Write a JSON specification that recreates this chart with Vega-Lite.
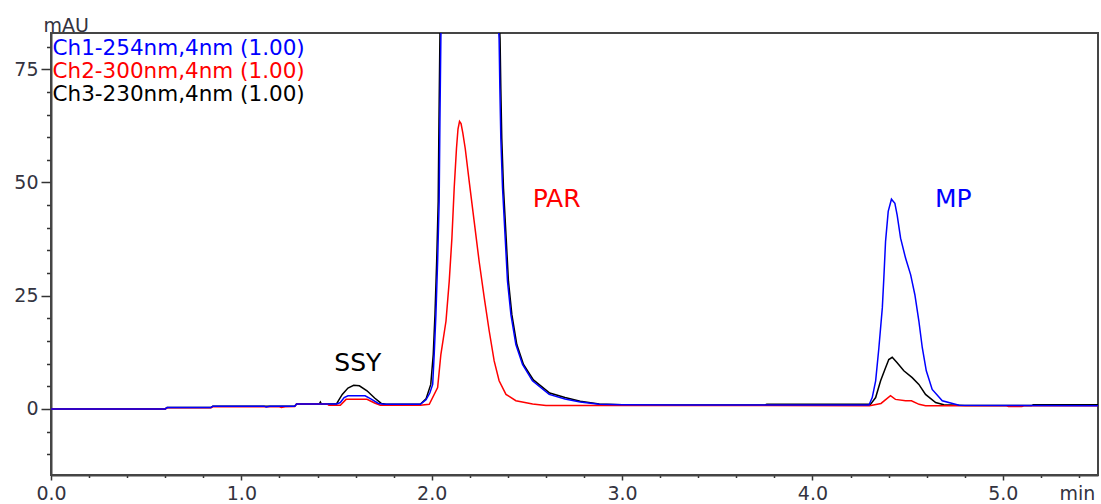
{
  "$schema": "https://vega.github.io/schema/vega-lite/v6.json",
  "width": 1047,
  "height": 442,
  "autosize": {"type": "none"},
  "padding": {"left": 51, "top": 33, "right": 3, "bottom": 29},
  "background": "white",
  "config": {"view": {"stroke": "#454545", "strokeWidth": 2}, "font": "DejaVu Sans"},
  "datasets": {
    "ch1": [
      {"t":0,"v":0},{"t":0.6,"v":0},{"t":0.61,"v":0.3},{"t":0.84,"v":0.3},{"t":0.85,"v":0.6},{"t":1.12,"v":0.6},{"t":1.13,"v":0.4},{"t":1.15,"v":0.6},{"t":1.28,"v":0.6},{"t":1.29,"v":1.1},{"t":1.5,"v":1.1},{"t":1.52,"v":1.4},{"t":1.54,"v":2.5},{"t":1.56,"v":2.9},{"t":1.65,"v":2.9},{"t":1.68,"v":2.2},{"t":1.72,"v":1.2},{"t":1.75,"v":1.0},{"t":1.94,"v":1.0},{"t":1.97,"v":2.0},{"t":1.99,"v":3.5},{"t":2.005,"v":5.4},{"t":2.013,"v":12.0},{"t":2.022,"v":20.8},{"t":2.031,"v":32.6},{"t":2.039,"v":45.8},{"t":2.043,"v":63.4},{"t":2.048,"v":82},{"t":2.06,"v":105},{"t":2.1,"v":125},{"t":2.2,"v":130},{"t":2.3,"v":115},{"t":2.345,"v":90},{"t":2.354,"v":81.7},{"t":2.358,"v":70.7},{"t":2.363,"v":59.7},{"t":2.372,"v":48.7},{"t":2.386,"v":37.7},{"t":2.398,"v":28.2},{"t":2.416,"v":20.8},{"t":2.442,"v":14.2},{"t":2.477,"v":9.8},{"t":2.529,"v":6.2},{"t":2.617,"v":3.2},{"t":2.7,"v":2.2},{"t":2.78,"v":1.5},{"t":2.88,"v":1.0},{"t":3.0,"v":0.9},{"t":3.3,"v":0.85},{"t":4.297,"v":0.85},{"t":4.314,"v":2.5},{"t":4.332,"v":6.2},{"t":4.349,"v":13.5},{"t":4.367,"v":22.3},{"t":4.375,"v":28.9},{"t":4.384,"v":37.0},{"t":4.398,"v":43.6},{"t":4.415,"v":46.3},{"t":4.433,"v":45.4},{"t":4.445,"v":42.8},{"t":4.463,"v":37.7},{"t":4.489,"v":33.3},{"t":4.516,"v":29.6},{"t":4.538,"v":25.2},{"t":4.559,"v":19.4},{"t":4.577,"v":13.5},{"t":4.598,"v":8.4},{"t":4.629,"v":4.3},{"t":4.682,"v":1.8},{"t":4.77,"v":0.8},{"t":5.5,"v":0.7}
    ],
    "ch2": [
      {"t":0,"v":0},{"t":0.6,"v":0},{"t":0.61,"v":0.25},{"t":0.84,"v":0.25},{"t":0.85,"v":0.45},{"t":1.2,"v":0.45},{"t":1.21,"v":0.3},{"t":1.23,"v":0.45},{"t":1.28,"v":0.5},{"t":1.29,"v":1.1},{"t":1.45,"v":1.1},{"t":1.46,"v":0.8},{"t":1.52,"v":0.8},{"t":1.55,"v":2.1},{"t":1.66,"v":2.1},{"t":1.70,"v":1.3},{"t":1.73,"v":0.8},{"t":1.94,"v":0.8},{"t":1.987,"v":1.0},{"t":2.031,"v":4.7},{"t":2.048,"v":12.0},{"t":2.075,"v":19.4},{"t":2.092,"v":28.2},{"t":2.106,"v":37.7},{"t":2.118,"v":48.7},{"t":2.13,"v":57.5},{"t":2.138,"v":61.8},{"t":2.146,"v":63.5},{"t":2.154,"v":63.0},{"t":2.163,"v":61.0},{"t":2.176,"v":57.5},{"t":2.197,"v":50.2},{"t":2.223,"v":41.4},{"t":2.249,"v":32.6},{"t":2.276,"v":24.5},{"t":2.302,"v":17.2},{"t":2.328,"v":10.6},{"t":2.354,"v":6.2},{"t":2.39,"v":3.2},{"t":2.442,"v":1.8},{"t":2.53,"v":1.1},{"t":2.6,"v":0.75},{"t":3.75,"v":0.75},{"t":4.3,"v":0.7},{"t":4.36,"v":1.2},{"t":4.41,"v":2.9},{"t":4.436,"v":2.1},{"t":4.489,"v":1.8},{"t":4.52,"v":1.8},{"t":4.56,"v":1.0},{"t":4.594,"v":0.7},{"t":5.02,"v":0.7},{"t":5.03,"v":0.5},{"t":5.1,"v":0.5},{"t":5.11,"v":0.7},{"t":5.5,"v":0.7}
    ],
    "ch3": [
      {"t":0,"v":0},{"t":0.6,"v":0},{"t":0.61,"v":0.3},{"t":0.84,"v":0.3},{"t":0.85,"v":0.6},{"t":1.28,"v":0.6},{"t":1.29,"v":1.1},{"t":1.41,"v":1.1},{"t":1.415,"v":1.5},{"t":1.42,"v":1.1},{"t":1.5,"v":1.1},{"t":1.51,"v":1.8},{"t":1.53,"v":3.2},{"t":1.56,"v":4.6},{"t":1.59,"v":5.2},{"t":1.62,"v":5.1},{"t":1.66,"v":4.0},{"t":1.70,"v":2.4},{"t":1.735,"v":1.2},{"t":1.76,"v":1.0},{"t":1.94,"v":1.0},{"t":1.97,"v":2.2},{"t":1.995,"v":5.4},{"t":2.008,"v":12.0},{"t":2.017,"v":20.8},{"t":2.026,"v":32.6},{"t":2.034,"v":45.8},{"t":2.038,"v":63.4},{"t":2.043,"v":82},{"t":2.055,"v":110},{"t":2.1,"v":135},{"t":2.2,"v":140},{"t":2.3,"v":125},{"t":2.35,"v":90},{"t":2.359,"v":81.7},{"t":2.363,"v":70.7},{"t":2.368,"v":59.7},{"t":2.377,"v":48.7},{"t":2.391,"v":37.7},{"t":2.403,"v":28.2},{"t":2.421,"v":20.8},{"t":2.447,"v":14.2},{"t":2.482,"v":9.8},{"t":2.534,"v":6.4},{"t":2.62,"v":3.5},{"t":2.7,"v":2.5},{"t":2.78,"v":1.7},{"t":2.88,"v":1.1},{"t":3.0,"v":0.9},{"t":3.75,"v":0.85},{"t":3.76,"v":1.0},{"t":4.305,"v":1.0},{"t":4.332,"v":2.5},{"t":4.358,"v":6.2},{"t":4.384,"v":9.1},{"t":4.401,"v":10.9},{"t":4.419,"v":11.4},{"t":4.445,"v":10.2},{"t":4.48,"v":8.4},{"t":4.524,"v":6.9},{"t":4.559,"v":5.4},{"t":4.594,"v":3.2},{"t":4.647,"v":1.4},{"t":4.69,"v":0.9},{"t":4.8,"v":0.75},{"t":5.15,"v":0.72},{"t":5.16,"v":0.9},{"t":5.5,"v":0.9}
    ],
    "labels": [
      {"label":"SSY","t":1.612,"v":10.2,"ch":"Ch3-230nm,4nm (1.00)"},
      {"label":"PAR","t":2.656,"v":46.4,"ch":"Ch2-300nm,4nm (1.00)"},
      {"label":"MP","t":4.74,"v":46.4,"ch":"Ch1-254nm,4nm (1.00)"}
    ]
  },
  "encoding": {
    "x": {
      "field": "t", "type": "quantitative",
      "scale": {"domain": [0, 5.5], "nice": false, "zero": false},
      "axis": {
        "title": "min", "titleFont": "DejaVu Sans", "titleFontSize": 19, "titleFontWeight": "normal", "titleColor": "#333340",
        "titleX": 1008, "titleY": 24, "titleAlign": "left", "titleBaseline": "alphabetic",
        "values": [0,0.2,0.4,0.6,0.8,1,1.2,1.4,1.6,1.8,2,2.2,2.4,2.6,2.8,3,3.2,3.4,3.6,3.8,4,4.2,4.4,4.6,4.8,5,5.2,5.4],
        "labelExpr": "abs(datum.value - round(datum.value)) < 0.001 ? format(datum.value, '.1f') : ''",
        "labelFont": "DejaVu Sans", "labelFontSize": 19, "labelColor": "#333340",
        "labelFlush": false, "labelOverlap": false, "labelBound": false, "labelPadding": 4,
        "tickSize": {"condition": {"test": "abs(datum.value - round(datum.value)) < 0.001", "value": 5}, "value": 2.5},
        "tickColor": "#333333", "tickWidth": 1.5,
        "domainColor": "#454545", "domainWidth": 2,
        "grid": false
      }
    },
    "y": {
      "field": "v", "type": "quantitative",
      "scale": {"domain": [-14.6, 83], "nice": false, "zero": false},
      "axis": {
        "title": "mAU", "titleFont": "DejaVu Sans", "titleFontSize": 19, "titleFontWeight": "normal", "titleColor": "#333340",
        "titleAngle": 0, "titleX": -8, "titleY": -2, "titleAlign": "left", "titleBaseline": "alphabetic",
        "values": [-10,-5,0,5,10,15,20,25,30,35,40,45,50,55,60,65,70,75,80],
        "labelExpr": "datum.value % 25 === 0 ? format(datum.value, 'd') : ''",
        "labelFont": "DejaVu Sans", "labelFontSize": 19, "labelColor": "#333340",
        "labelFlush": false, "labelOverlap": false, "labelBound": false, "labelPadding": 3,
        "tickSize": {"condition": {"test": "datum.value % 25 === 0", "value": 10}, "value": 4.5},
        "tickColor": "#333333", "tickWidth": 1.5,
        "domainColor": "#454545", "domainWidth": 2,
        "grid": false
      }
    }
  },
  "layer": [
    {
      "data": {"name": "ch3"},
      "mark": {"type": "line", "strokeWidth": 1.5, "clip": true},
      "encoding": {
        "color": {
          "datum": "Ch3-230nm,4nm (1.00)",
          "scale": {"domain": ["Ch1-254nm,4nm (1.00)", "Ch2-300nm,4nm (1.00)", "Ch3-230nm,4nm (1.00)"], "range": ["#0000ff", "#ff0000", "#000000"]},
          "legend": {
            "orient": "none", "legendX": -20, "legendY": 4.75, "title": null,
            "labelFont": "DejaVu Sans", "labelFontSize": 21.5, "labelLimit": 500,
            "symbolSize": 0, "symbolOpacity": 0, "symbolStrokeWidth": 0, "labelOffset": 0,
            "rowPadding": 0.3, "padding": 0, "direction": "vertical",
            "encode": {"labels": {"update": {"fill": {"scale": "color", "field": "value"}}}}
          }
        }
      }
    },
    {
      "data": {"name": "ch2"},
      "mark": {"type": "line", "strokeWidth": 1.5, "clip": true},
      "encoding": {"color": {"datum": "Ch2-300nm,4nm (1.00)"}}
    },
    {
      "data": {"name": "ch1"},
      "mark": {"type": "line", "strokeWidth": 1.5, "clip": true},
      "encoding": {"color": {"datum": "Ch1-254nm,4nm (1.00)"}}
    },
    {
      "data": {"name": "labels"},
      "mark": {"type": "text", "font": "DejaVu Sans", "fontSize": 25, "align": "center", "baseline": "middle"},
      "encoding": {
        "text": {"field": "label"},
        "fill": {
          "field": "ch", "type": "nominal",
          "scale": {"domain": ["Ch1-254nm,4nm (1.00)", "Ch2-300nm,4nm (1.00)", "Ch3-230nm,4nm (1.00)"], "range": ["#0000ff", "#ff0000", "#000000"]},
          "legend": null
        }
      }
    }
  ]
}
